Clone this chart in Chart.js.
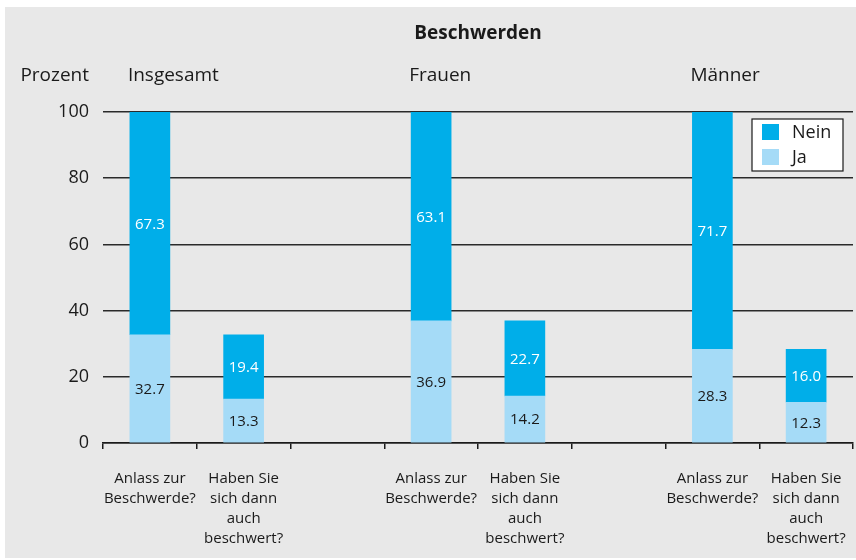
<!DOCTYPE html>
<html>
<head>
<meta charset="utf-8">
<script src="https://cdn.jsdelivr.net/npm/chart.js@4/dist/chart.umd.min.js"></script>
<style>
    html, body { margin: 0; padding: 0; background: #ffffff; }
    .frame {
        position: absolute;
        left: 5px;
        top: 7px;
        width: 851px;
        height: 551px;
        background: #e8e8e8;
    }
</style>
</head>
<body>
<div class="frame"><canvas id="beschwerdenChart"></canvas></div>
<script>
const categories = [
    ['Anlass zur', 'Beschwerde?'], ['Haben Sie', 'sich dann', 'auch', 'beschwert?'], '',
    ['Anlass zur', 'Beschwerde?'], ['Haben Sie', 'sich dann', 'auch', 'beschwert?'], '',
    ['Anlass zur', 'Beschwerde?'], ['Haben Sie', 'sich dann', 'auch', 'beschwert?']
];
const groups = ['Insgesamt', 'Frauen', 'Männer'];
const groupStart = [0, 3, 6];
const jaValues = [32.7, 13.3, null, 36.9, 14.2, null, 28.3, 12.3];
const neinValues = [67.3, 19.4, null, 63.1, 22.7, null, 71.7, 16.0];
const yTicks = [0, 20, 40, 60, 80, 100];

document.addEventListener('DOMContentLoaded', function() {

    Chart.defaults.font.family = "'Open Sans', sans-serif";
    Chart.defaults.color = '#1a1a1a';

    const textColor = '#1a1a1a';
    const labelFont = "15px 'Open Sans', sans-serif";

    // value labels, header texts and the boxed legend
    const extras = {
        id: 'extras',
        afterDatasetsDraw(chart) {
            const ctx = chart.ctx;
            const area = chart.chartArea;
            ctx.save();
            ctx.textAlign = 'center';
            ctx.textBaseline = 'middle';
            ctx.font = labelFont;
            chart.data.datasets.forEach((ds, i) => {
                const meta = chart.getDatasetMeta(i);
                meta.data.forEach((bar, j) => {
                    if (ds.data[j] == null) return;
                    const p = bar.getProps(['x', 'y', 'base'], true);
                    ctx.fillStyle = i === 0 ? textColor : '#ffffff';
                    ctx.fillText(ds.data[j].toFixed(1), p.x, (p.y + p.base) / 2 + 1);
                });
            });

            // title
            ctx.font = "bold 19px 'Open Sans', sans-serif";
            ctx.fillStyle = textColor;
            ctx.fillText('Beschwerden', (area.left + area.right) / 2, 27);

            // axis title and group names
            ctx.font = "19px 'Open Sans', sans-serif";
            ctx.textAlign = 'right';
            ctx.fillText('Prozent', 84, 69);
            ctx.textAlign = 'left';
            const meta0 = chart.getDatasetMeta(0);
            groups.forEach((g, k) => {
                const bar = meta0.data[groupStart[k]];
                const p = bar.getProps(['x', 'width'], true);
                ctx.fillText(g, p.x - p.width / 2 - 2, 69);
            });

            // legend
            const bx = area.right - 101, by = area.top + 7, bw = 91, bh = 52;
            ctx.fillStyle = '#ffffff';
            ctx.fillRect(bx, by, bw, bh);
            ctx.strokeStyle = '#1a1a1a';
            ctx.lineWidth = 1.2;
            ctx.strokeRect(bx, by, bw, bh);
            ctx.font = "18px 'Open Sans', sans-serif";
            const items = [chart.data.datasets[1], chart.data.datasets[0]];
            items.forEach((ds, k) => {
                ctx.fillStyle = ds.backgroundColor;
                ctx.fillRect(bx + 10, by + 5 + k * 25, 17, 16);
                ctx.fillStyle = textColor;
                ctx.fillText(ds.label, bx + 40, by + 14 + k * 25);
            });
            ctx.restore();
        }
    };

    const ctx = document.getElementById('beschwerdenChart').getContext('2d');
    new Chart(ctx, {
        type: 'bar',
        data: {
            labels: categories,
            datasets: [
                { label: 'Ja', data: jaValues, backgroundColor: '#a5dbf7' },
                { label: 'Nein', data: neinValues, backgroundColor: '#00aee9' }
            ]
        },
        options: {
            responsive: true,
            maintainAspectRatio: false,
            animation: false,
            layout: { padding: { top: 105, right: 3, left: 0, bottom: 0 } },
            datasets: {
                bar: { barThickness: 40, categoryPercentage: 1, borderWidth: 0 }
            },
            plugins: {
                legend: { display: false },
                title: { display: false },
                tooltip: { enabled: false }
            },
            scales: {
                x: {
                    stacked: true,
                    afterFit: (s) => {
                        s.height = 115;
                        s.paddingLeft = 0;
                        s.paddingRight = 0;
                    },
                    grid: {
                        drawOnChartArea: false,
                        drawTicks: true,
                        tickLength: 6,
                        color: '#1a1a1a',
                        lineWidth: 1.5,
                        offset: true
                    },
                    border: { color: '#1a1a1a', width: 1.5 },
                    ticks: {
                        color: textColor,
                        padding: 20,
                        maxRotation: 0,
                        autoSkip: false,
                        font: { size: 15, lineHeight: 1.33 }
                    }
                },
                y: {
                    stacked: true,
                    min: 0,
                    max: 100,
                    afterFit: (s) => { s.width = 98; },
                    afterBuildTicks: (s) => { s.ticks = yTicks.map(v => ({ value: v })); },
                    grid: {
                        drawTicks: false,
                        color: '#2a2a2a',
                        lineWidth: 1.5
                    },
                    border: { display: false },
                    ticks: {
                        color: textColor,
                        padding: 14,
                        font: { size: 18 }
                    }
                }
            }
        },
        plugins: [extras]
    });
});
</script>
</body>
</html>
